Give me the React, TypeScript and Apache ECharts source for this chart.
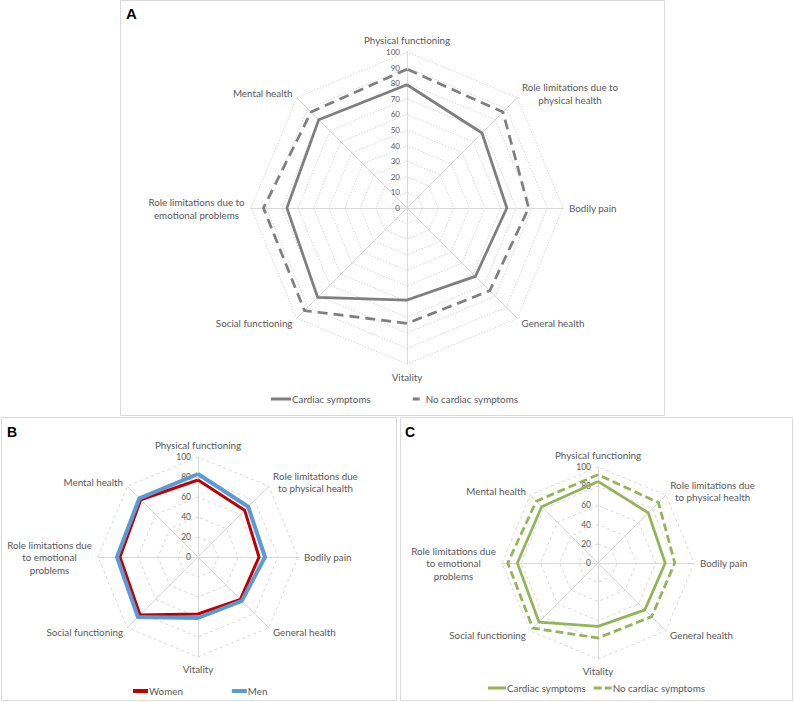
import React, { useEffect, useRef } from 'react';
import * as echarts from 'echarts';

// SF-36 domains, listed clockwise from the top of each radar.
const DOMAINS_A = [
  'Physical functioning',
  'Role limitations due to\nphysical health',
  'Bodily pain',
  'General health',
  'Vitality',
  'Social functioning',
  'Role limitations due to\nemotional problems',
  'Mental health',
];
const DOMAINS_BC = [
  'Physical functioning',
  'Role limitations due\nto physical health',
  'Bodily pain',
  'General health',
  'Vitality',
  'Social functioning',
  'Role limitations due\nto emotional\nproblems',
  'Mental health',
];

// Panel A: cardiac symptoms vs none
const cardiacA = [79, 68, 64, 62, 59, 81, 77, 80];
const noCardiacA = [89, 87, 78, 75, 74, 93, 92, 87];
// Panel B: women vs men
const women = [77, 66, 61, 60, 57, 82, 78, 81];
const men = [83, 71, 67, 62, 61, 85, 81, 83];
// Panel C: cardiac symptoms vs none
const cardiacC = [85, 74, 70, 69, 66, 87, 84, 83];
const noCardiacC = [92, 89, 80, 79, 78, 96, 94, 91];

const FONT = 'Lato, "Open Sans", sans-serif';
const TEXT_COLOR = '#595959';
const GRID_COLOR = '#d9d9d9';

let measureCtx: CanvasRenderingContext2D | null = null;
function textWidth(t: string, size: number) {
  if (!measureCtx) measureCtx = document.createElement('canvas').getContext('2d');
  if (!measureCtx) return t.length * size * 0.5;
  measureCtx.font = `${size}px Lato`;
  return measureCtx.measureText(t).width;
}

// ECharts places radar indicators counter-clockwise from the top.
const toRadarOrder = <T,>(arr: T[]): T[] => [arr[0], ...arr.slice(1).reverse()];

interface SeriesSpec {
  name: string;
  values: number[];
  color: string;
  width: number;
  dash?: number[];
}

interface PanelSpec {
  letter: string;
  left: number;
  top: number;
  width: number;
  height: number;
  letterPos: [number, number];
  letterSize: number;
  center: [number, number];
  radius: number;
  splitNumber: number;
  names: string[];
  nameSize: number;
  lineHeight: number;
  tickSize: number;
  splitDash: number[];
  series: SeriesSpec[];
  legend: {
    left: number;
    top: number;
    itemWidth: number;
    itemHeight: number;
    itemGap: number;
    icons: string[];
  };
}

function buildOption(p: PanelSpec): echarts.EChartsOption {
  const rich: Record<string, any> = {};
  const formatted: Record<string, string> = {};
  p.names.forEach((n, i) => {
    const lines = n.split('\n');
    if (lines.length > 1) {
      const w = Math.ceil(Math.max(...lines.map((l) => textWidth(l, p.nameSize))));
      rich['n' + i] = {
        width: w,
        align: 'center',
        fontSize: p.nameSize,
        fontFamily: FONT,
        color: TEXT_COLOR,
        lineHeight: p.lineHeight,
      };
      formatted[n] = lines.map((l) => `{n${i}|${l}}`).join('\n');
    }
  });

  const indicator = toRadarOrder(p.names).map((n, i) =>
    i === 0
      ? {
          name: n,
          min: 0,
          max: 100,
          axisLabel: {
            show: true,
            color: TEXT_COLOR,
            fontSize: p.tickSize,
            fontFamily: FONT,
            margin: 7,
          },
        }
      : { name: n, min: 0, max: 100 }
  );

  return {
    animation: false,
    title: {
      text: p.letter,
      left: p.letterPos[0],
      top: p.letterPos[1],
      padding: 0,
      textStyle: {
        fontSize: p.letterSize,
        fontWeight: 'bold',
        color: '#000',
        fontFamily: '"Liberation Sans", Arial, sans-serif',
      },
    },
    graphic: [
      {
        type: 'rect',
        silent: true,
        shape: { x: 0.5, y: 0.5, width: p.width - 1, height: p.height - 1 },
        style: { fill: 'none', stroke: GRID_COLOR, lineWidth: 1 },
      },
    ],
    legend: {
      left: p.legend.left,
      top: p.legend.top,
      padding: 0,
      orient: 'horizontal',
      itemWidth: p.legend.itemWidth,
      itemHeight: p.legend.itemHeight,
      itemGap: p.legend.itemGap,
      selectedMode: false,
      textStyle: {
        color: TEXT_COLOR,
        fontSize: p.nameSize,
        fontFamily: FONT,
        padding: [0, 0, 0, -4],
      },
      data: p.series.map((s, i) => ({ name: s.name, icon: p.legend.icons[i] })),
    },
    radar: {
      center: p.center,
      radius: p.radius,
      startAngle: 90,
      splitNumber: p.splitNumber,
      shape: 'polygon',
      nameGap: 6,
      indicator,
      axisName: {
        color: TEXT_COLOR,
        fontSize: p.nameSize,
        fontFamily: FONT,
        lineHeight: p.lineHeight,
        formatter: (name: string) => formatted[name] ?? name,
        rich,
      },
      axisLine: { lineStyle: { color: GRID_COLOR, width: 1 } },
      splitLine: { lineStyle: { color: GRID_COLOR, width: 1, type: p.splitDash } },
      splitArea: { show: false },
      axisTick: { show: false },
      axisLabel: { show: false },
    } as any,
    series: [
      {
        type: 'radar',
        symbol: 'none',
        silent: true,
        emphasis: { disabled: true },
        data: p.series.map((s) => ({
          name: s.name,
          value: toRadarOrder(s.values),
          itemStyle: { color: s.color },
          lineStyle: { color: s.color, width: s.width, type: s.dash ?? 'solid' },
        })),
      } as any,
    ],
  };
}

const GRAY = '#7f7f7f';
const RED = '#c00000';
const BLUE = '#5b9bd5';
const GREEN = '#91b557';

const panels: PanelSpec[] = [
  {
    letter: 'A',
    left: 120,
    top: 0,
    width: 545,
    height: 416,
    letterPos: [6, 6],
    letterSize: 15,
    center: [287, 208],
    radius: 156,
    splitNumber: 10,
    names: DOMAINS_A,
    nameSize: 9.8,
    lineHeight: 13,
    tickSize: 8,
    splitDash: [1.5, 1.5],
    series: [
      { name: 'Cardiac symptoms', values: cardiacA, color: GRAY, width: 2.75 },
      { name: 'No cardiac symptoms', values: noCardiacA, color: GRAY, width: 2.75, dash: [10, 6] },
    ],
    legend: {
      left: 151,
      top: 394,
      itemWidth: 20,
      itemHeight: 3,
      itemGap: 34,
      icons: ['rect', 'path://M0,0H0.01V3H0Z M8,0H15V3H8Z M19.99,0H20V3H19.99Z'],
    },
  },
  {
    letter: 'B',
    left: 1,
    top: 417,
    width: 396,
    height: 284,
    letterPos: [6, 8],
    letterSize: 14,
    center: [197, 140],
    radius: 100,
    splitNumber: 5,
    names: DOMAINS_BC,
    nameSize: 9.8,
    lineHeight: 12.5,
    tickSize: 8.5,
    splitDash: [3, 3],
    series: [
      { name: 'Women', values: women, color: RED, width: 3 },
      { name: 'Men', values: men, color: BLUE, width: 4 },
    ],
    legend: {
      left: 132,
      top: 269,
      itemWidth: 15,
      itemHeight: 4,
      itemGap: 49,
      icons: ['rect', 'rect'],
    },
  },
  {
    letter: 'C',
    left: 400,
    top: 417,
    width: 393,
    height: 284,
    letterPos: [5, 8],
    letterSize: 14,
    center: [198, 146],
    radius: 96,
    splitNumber: 5,
    names: DOMAINS_BC,
    nameSize: 9.8,
    lineHeight: 12.5,
    tickSize: 8.5,
    splitDash: [3, 3],
    series: [
      { name: 'Cardiac symptoms', values: cardiacC, color: GREEN, width: 2.75 },
      { name: 'No cardiac symptoms', values: noCardiacC, color: GREEN, width: 2.75, dash: [8, 4] },
    ],
    legend: {
      left: 88,
      top: 266,
      itemWidth: 18,
      itemHeight: 3,
      itemGap: 8,
      icons: ['rect', 'path://M0,0H8V3H0Z M11,0H18V3H11Z'],
    },
  },
];

function RadarPanel({ spec }: { spec: PanelSpec }) {
  const ref = useRef<HTMLDivElement>(null);
  useEffect(() => {
    if (!ref.current) return;
    const chart = echarts.init(ref.current, undefined, { renderer: 'svg' });
    chart.setOption(buildOption(spec));
    return () => chart.dispose();
  }, [spec]);
  return (
    <div
      ref={ref}
      style={{
        position: 'absolute',
        left: spec.left,
        top: spec.top,
        width: spec.width,
        height: spec.height,
      }}
    />
  );
}

export default function App() {
  return (
    <div
      style={{
        position: 'absolute',
        left: 0,
        top: 0,
        width: 794,
        height: 702,
        background: '#fff',
        overflow: 'hidden',
      }}
    >
      {panels.map((p) => (
        <RadarPanel key={p.letter} spec={p} />
      ))}
    </div>
  );
}
